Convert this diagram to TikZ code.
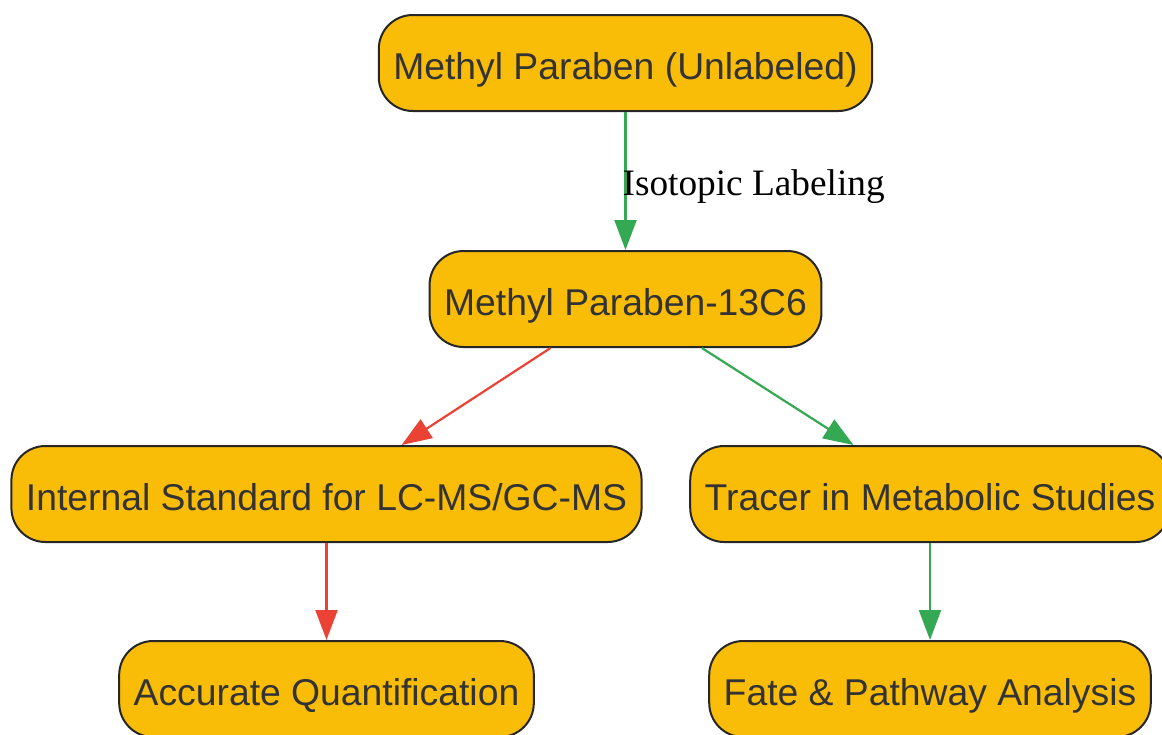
\documentclass[tikz,border=0pt]{standalone}
\usepackage{fontspec}
\setmainfont{Liberation Sans}
\newfontfamily\labelfont{Liberation Serif}
\usetikzlibrary{arrows.meta,positioning}

\definecolor{boxfill}{HTML}{F9BC07}
\definecolor{boxline}{HTML}{262626}
\definecolor{boxtext}{HTML}{333333}
\definecolor{gooseGreen}{HTML}{34A853}
\definecolor{alertRed}{HTML}{EA4335}

\begin{document}
\begin{tikzpicture}[x=1pt, y=-1pt,
    stage/.style={draw=boxline, fill=boxfill, line width=2pt, rounded corners=34pt,
        minimum height=96pt, inner xsep=14.5pt, text=boxtext,
        text height=32pt, text depth=0pt,
        font=\fontsize{37.3}{44}\selectfont},
    flow/.style={-{Triangle[length=30pt, width=22pt]}, line width=2.2pt},
    good/.style={flow, draw=gooseGreen, fill=gooseGreen},
    bad/.style={flow, draw=alertRed, fill=alertRed}]
    \useasboundingbox (0,0) rectangle (1162,734);

    \node[stage] (plain) at (625.5,63) {Methyl Paraben (Unlabeled)};
    \node[stage, below=138pt of plain] (labeled) {Methyl Paraben-13C6};

    \node[stage] (standard) at (326.5,494) {Internal Standard for LC-MS/GC-MS};
    \node[stage] (tracer) at (930,494) {Tracer in Metabolic Studies};

    \node[stage, below=97pt of standard] (quant) {Accurate Quantification};
    \node[stage, below=97pt of tracer] (fate) {Fate \& Pathway Analysis};

    \draw[good] (plain) -- node[right, inner sep=0pt, xshift=-4pt, yshift=-6pt,
        font=\labelfont\fontsize{37.3}{44}\selectfont] (isolabel) {Isotopic Labeling} (labeled);
    \draw[bad] (labeled) -- (standard);
    \draw[good] (labeled) -- (tracer);
    \draw[bad] (standard) -- (quant);
    \draw[good] (tracer) -- (fate);

\end{tikzpicture}
\end{document}
